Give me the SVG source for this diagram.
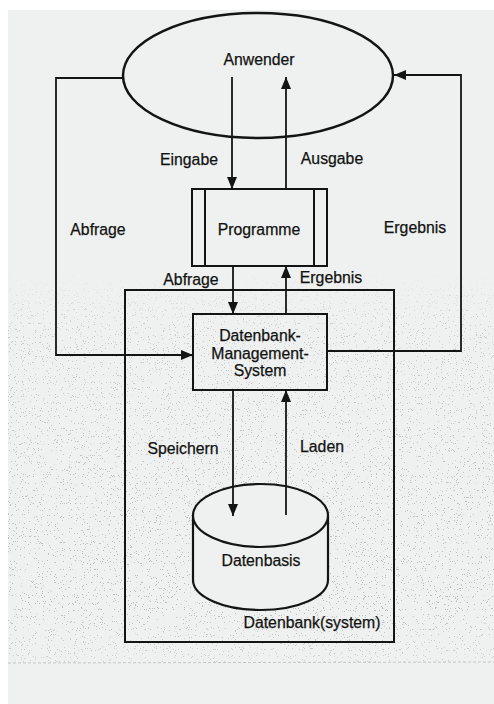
<svg xmlns="http://www.w3.org/2000/svg" width="494" height="704" viewBox="0 0 494 704">
  <style>
    .ln { fill: none; stroke: #141414; stroke-width: 1.8; }
    .box { fill: none; stroke: #141414; stroke-width: 2; }
    .lbl { font-family: "Liberation Sans", Arial, sans-serif; font-size: 15.8px; fill: #121212; stroke: #121212; stroke-width: 0.25; text-anchor: middle; }
  </style>
  <defs>
    <marker id="arrow" viewBox="0 0 12 10" refX="12" refY="5" markerWidth="12" markerHeight="10" markerUnits="userSpaceOnUse" orient="auto">
      <path d="M0,0 L12,5 L0,10 Z" fill="#141414"/>
    </marker>
    <filter id="grain" x="0" y="0" width="100%" height="100%">
      <feTurbulence type="fractalNoise" baseFrequency="0.85" numOctaves="2" seed="7" result="n"/>
      <feColorMatrix in="n" type="matrix" values="0 0 0 0 0.3  0 0 0 0 0.3  0 0 0 0 0.3  -30 0 0 0 9.6"/>
    </filter>
    <linearGradient id="fade" x1="0" y1="0" x2="0" y2="1">
      <stop offset="0" stop-color="#fff" stop-opacity="0"/>
      <stop offset="0.15" stop-color="#fff" stop-opacity="0.7"/>
      <stop offset="0.85" stop-color="#fff" stop-opacity="1"/>
      <stop offset="1" stop-color="#fff" stop-opacity="0.6"/>
    </linearGradient>
    <mask id="grainMask">
      <rect x="8" y="270" width="486" height="392" fill="url(#fade)"/>
    </mask>
  </defs>

  <!-- paper -->
  <rect x="0" y="0" width="494" height="704" fill="#ffffff"/>
  <rect x="8" y="10" width="486" height="694" fill="#eef1ef"/>
  <g mask="url(#grainMask)" opacity="0.6">
    <rect x="8" y="270" width="486" height="392" filter="url(#grain)"/>
  </g>
  <line x1="8" y1="663" x2="494" y2="662" stroke="#b8bcb8" stroke-width="0.8" stroke-dasharray="3 2"/>

  <!-- user -->
  <g id="anwender">
    <ellipse cx="258" cy="75.5" rx="135" ry="62.5" fill="none" stroke="#141414" stroke-width="2.5"/>
    <text class="lbl" x="259" y="65">Anwender</text>
  </g>

  <!-- application programs -->
  <g id="programme">
    <rect class="box" x="192" y="189" width="135" height="77"/>
    <line class="box" x1="205" y1="189" x2="205" y2="266"/>
    <line class="box" x1="314" y1="189" x2="314" y2="266"/>
    <text class="lbl" x="259" y="235">Programme</text>
  </g>

  <!-- database system boundary -->
  <g id="datenbanksystem">
    <rect class="box" x="125" y="290" width="269" height="352"/>
    <text class="lbl" x="312" y="628">Datenbank(system)</text>
  </g>

  <!-- DBMS -->
  <g id="dbms">
    <rect class="box" x="193" y="314" width="134" height="76"/>
    <text class="lbl" x="260" y="341">Datenbank-</text>
    <text class="lbl" x="260" y="359">Management-</text>
    <text class="lbl" x="260" y="376">System</text>
  </g>

  <!-- database -->
  <g id="datenbasis">
    <path d="M193,515.5 L193,580 A67.5,30 0 0 0 328,580 L328,515.5" fill="#eef1ef" stroke="#141414" stroke-width="2.2"/>
    <ellipse cx="260.5" cy="515.5" rx="67.5" ry="31.5" fill="#eef1ef" stroke="#141414" stroke-width="2.2"/>
    <text class="lbl" x="261" y="566">Datenbasis</text>
  </g>

  <!-- connectors -->
  <g id="connectors">
    <polyline class="ln" points="123,78 56,78 56,355 193,355" marker-end="url(#arrow)"/>
    <polyline class="ln" points="327,351 461,351 461,75 394,75" marker-end="url(#arrow)"/>
    <line class="ln" x1="232" y1="77" x2="232" y2="189" marker-end="url(#arrow)"/>
    <line class="ln" x1="286" y1="189" x2="286" y2="77" marker-end="url(#arrow)"/>
    <line class="ln" x1="233" y1="266" x2="233" y2="314" marker-end="url(#arrow)"/>
    <line class="ln" x1="286" y1="314" x2="286" y2="266" marker-end="url(#arrow)"/>
    <line class="ln" x1="233" y1="390" x2="233" y2="516" marker-end="url(#arrow)"/>
    <line class="ln" x1="286" y1="515" x2="286" y2="390" marker-end="url(#arrow)"/>
    <text class="lbl" x="189" y="165">Eingabe</text>
    <text class="lbl" x="332" y="164">Ausgabe</text>
    <text class="lbl" x="98" y="235">Abfrage</text>
    <text class="lbl" x="415" y="233">Ergebnis</text>
    <text class="lbl" x="191" y="285">Abfrage</text>
    <text class="lbl" x="331" y="283">Ergebnis</text>
    <text class="lbl" x="183" y="454">Speichern</text>
    <text class="lbl" x="322" y="452">Laden</text>
  </g>
</svg>
